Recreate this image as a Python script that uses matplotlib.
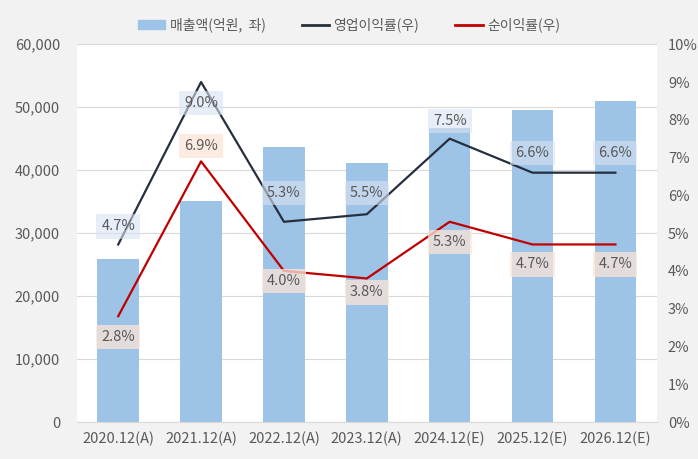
import matplotlib
matplotlib.use('Agg')
import matplotlib.pyplot as plt
import numpy as np

plt.rcParams['font.family'] = ['Noto Sans CJK KR', 'DejaVu Sans']

# ---------------------------------------------------------------------------
# Data
# ---------------------------------------------------------------------------
years = ['2020.12(A)', '2021.12(A)', '2022.12(A)', '2023.12(A)',
         '2024.12(E)', '2025.12(E)', '2026.12(E)']
sales = [25900, 35100, 43700, 41100, 46700, 49500, 51000]       # 억원
op_margin = [4.7, 9.0, 5.3, 5.5, 7.5, 6.6, 6.6]                  # %
net_margin = [2.8, 6.9, 4.0, 3.8, 5.3, 4.7, 4.7]                 # %

# label offsets in pixels (vertical)
op_off = [18, -21, 29, 21, 18, 20, 20]
net_off = [-21, 15, -10, -14, -20, -20, -20]

bar_color = '#9dc3e6'
op_color = '#262f3d'
net_color = '#c00000'
txt = '#595959'

fig = plt.figure(figsize=(6.98, 4.59), dpi=100, facecolor='#f2f2f2')
ax = fig.add_axes([0.110, 0.0806, 0.831, 0.823])
ax.set_facecolor('white')
x = np.arange(len(years))

ax.bar(x, sales, width=0.5, color=bar_color, zorder=2)
ax.set_ylim(0, 60000)
ax.set_xlim(-0.5, len(years) - 0.5)
ax.set_yticks(range(0, 60001, 10000))
ax.set_yticklabels([f'{v:,}' for v in range(0, 60001, 10000)])
ax.grid(axis='y', color='#d9d9d9', linewidth=0.8, zorder=0)
ax.set_xticks(x)
ax.set_xticklabels(years)
for s in ['top', 'left', 'right']:
    ax.spines[s].set_visible(False)
ax.spines['bottom'].set_color('#d9d9d9')
ax.tick_params(axis='both', length=0, colors=txt, labelsize=10.5)
ax.tick_params(axis='x', pad=7)
ax.tick_params(axis='y', pad=12)

ax2 = ax.twinx()
ax2.set_ylim(0, 10)
ax2.set_yticks(range(0, 11))
ax2.set_yticklabels([f'{v}%' for v in range(0, 11)])
for s in ax2.spines.values():
    s.set_visible(False)
ax2.tick_params(axis='y', length=0, colors=txt, labelsize=10.5, pad=8)

ax2.plot(x, op_margin, color=op_color, linewidth=1.6, zorder=3)
ax2.plot(x, net_margin, color=net_color, linewidth=1.6, zorder=3)

for xi, v, off in zip(x, op_margin, op_off):
    ax2.annotate(f'{v:.1f}%', (xi, v), xytext=(0, off * 0.72), textcoords='offset points',
                 ha='center', va='center', fontsize=10.5, color=txt, zorder=4,
                 bbox=dict(boxstyle='square,pad=0.35', facecolor='#dae3f3', edgecolor='none', alpha=0.6))
for xi, v, off in zip(x, net_margin, net_off):
    ax2.annotate(f'{v:.1f}%', (xi, v), xytext=(0, off * 0.72), textcoords='offset points',
                 ha='center', va='center', fontsize=10.5, color=txt, zorder=4,
                 bbox=dict(boxstyle='square,pad=0.35', facecolor='#fbe5d6', edgecolor='none', alpha=0.75))

handles = [plt.Rectangle((0, 0), 1, 1, color=bar_color),
           plt.Line2D([], [], color=op_color, linewidth=2),
           plt.Line2D([], [], color=net_color, linewidth=2)]
fig.legend(handles, ['매출액(억원,  좌)', '영업이익률(우)', '순이익률(우)'],
           loc='center', bbox_to_anchor=(0.5, 0.945), ncol=3, frameon=False,
           fontsize=10, labelcolor=txt, handlelength=2.0, handleheight=0.6,
           columnspacing=2.6, handletextpad=0.3)

fig.savefig('out.png', dpi=100, facecolor=fig.get_facecolor())
